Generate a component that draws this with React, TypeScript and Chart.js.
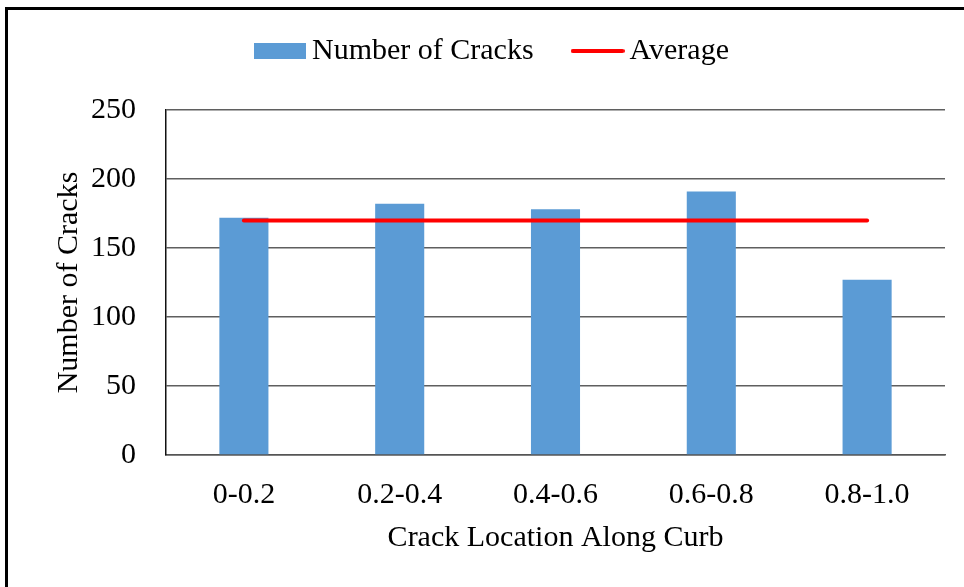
import React, { useEffect, useRef } from 'react';
import { Chart, registerables } from 'chart.js';
Chart.register(...registerables);

const categories = ['0-0.2', '0.2-0.4', '0.4-0.6', '0.6-0.8', '0.8-1.0'];
const crackCounts = [172, 182, 178, 191, 127];
const averageValues = [170, 170, 170, 170, 170];
const yMin = 0;
const yMax = 250;
const yStep = 50;
const xTitle = 'Crack Location Along Curb';
const yTitle = 'Number of Cracks';
const barLabel = 'Number of Cracks';
const lineLabel = 'Average';

const BAR_COLOR = '#5B9BD5';
const LINE_COLOR = '#FF0000';

const legendSpacer = {
  id: 'legendSpacer',
  beforeInit(chart: any) {
    const lg = chart.legend;
    if (!lg) return;
    const orig = lg.fit;
    lg.fit = function () {
      orig.call(this);
      this.height += 34;
    };
  },
};

function makeRectSymbol() {
  const c = document.createElement('canvas');
  c.width = 52;
  c.height = 16;
  const ctx = c.getContext('2d')!;
  ctx.fillStyle = BAR_COLOR;
  ctx.fillRect(0, 0, 52, 16);
  return c;
}

function makeLineSymbol() {
  const c = document.createElement('canvas');
  c.width = 54;
  c.height = 6;
  const ctx = c.getContext('2d')!;
  ctx.strokeStyle = LINE_COLOR;
  ctx.lineWidth = 4;
  ctx.lineCap = 'round';
  ctx.beginPath();
  ctx.moveTo(2, 3);
  ctx.lineTo(52, 3);
  ctx.stroke();
  return c;
}

export default function App() {
  const ref = useRef<HTMLCanvasElement>(null);
  useEffect(() => {
    const family = "'Liberation Serif', 'Times New Roman', serif";
    const font = { family, size: 30 };
    const rectSym = makeRectSymbol();
    const lineSym = makeLineSymbol();
    const chart = new Chart(ref.current as HTMLCanvasElement, {
      type: 'bar',
      data: {
        labels: categories,
        datasets: [
          {
            type: 'line',
            label: lineLabel,
            data: averageValues,
            borderColor: LINE_COLOR,
            backgroundColor: LINE_COLOR,
            borderWidth: 4,
            pointRadius: 0,
            borderCapStyle: 'round',
            order: 0,
          } as any,
          {
            type: 'bar',
            label: barLabel,
            data: crackCounts,
            backgroundColor: BAR_COLOR,
            categoryPercentage: 1,
            barPercentage: 0.315,
            order: 1,
          } as any,
        ],
      },
      options: {
        responsive: false,
        animation: false,
        layout: { padding: { top: -11, left: 47, right: 19, bottom: 27 } },
        plugins: {
          tooltip: { enabled: false },
          legend: {
            position: 'top',
            labels: {
              font,
              color: '#000',
              padding: 47,
              usePointStyle: true,
              pointStyleWidth: 34,
              boxWidth: 34,
              boxHeight: 16,
              generateLabels: () => [
                { text: barLabel, fillStyle: BAR_COLOR, strokeStyle: BAR_COLOR, lineWidth: 0, pointStyle: rectSym, datasetIndex: 1, hidden: false, fontColor: '#000' } as any,
                { text: lineLabel, fillStyle: LINE_COLOR, strokeStyle: LINE_COLOR, lineWidth: 4, pointStyle: lineSym, datasetIndex: 0, hidden: false, fontColor: '#000' } as any,
              ],
            },
          },
        },
        scales: {
          x: {
            grid: { display: false, drawTicks: false },
            border: { display: true, color: '#555555', width: 1.5 },
            ticks: { font, color: '#000', padding: 22 },
            title: { display: true, text: xTitle, font, color: '#000', padding: { top: -15, bottom: 4 } },
          },
          y: {
            min: yMin,
            max: yMax,
            grid: { color: '#5f5f5f', drawTicks: false, lineWidth: 1.5 },
            border: { display: true, color: '#111111', width: 1.5 },
            ticks: { stepSize: yStep, font, color: '#000', padding: 30 },
            title: { display: true, text: yTitle, font, color: '#000', padding: { top: 4, bottom: -26 } },
          },
        },
      },
      plugins: [legendSpacer],
    });
    return () => chart.destroy();
  }, []);

  return (
    <div style={{ position: 'fixed', left: 0, top: 0, width: 964, height: 587, background: '#fff', overflow: 'hidden' }}>
      <canvas ref={ref} width={964} height={587} style={{ display: 'block', position: 'absolute', left: 0, top: 0 }} />
      <div
        style={{
          position: 'absolute',
          left: 5,
          top: 7,
          width: 2000,
          height: 2000,
          borderTop: '3px solid #000',
          borderLeft: '3px solid #000',
          pointerEvents: 'none',
        }}
      />
    </div>
  );
}
